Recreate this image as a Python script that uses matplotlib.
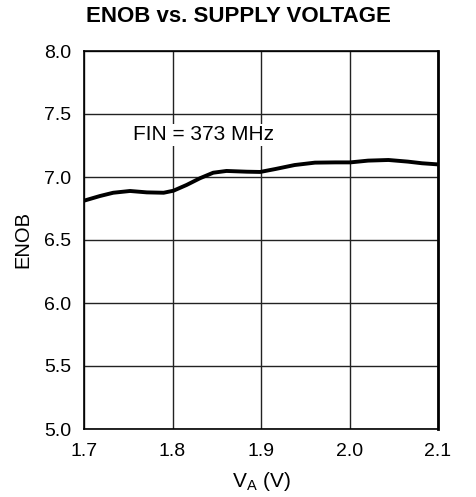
import matplotlib
matplotlib.use('Agg')
import matplotlib.pyplot as plt

plt.rcParams['font.family'] = ['Liberation Sans', 'DejaVu Sans']

# curve
va = [1.700, 1.718, 1.733, 1.752, 1.771, 1.790, 1.801, 1.816, 1.831, 1.846,
      1.861, 1.884, 1.899, 1.916, 1.938, 1.961, 1.984, 2.001, 2.021, 2.044,
      2.066, 2.082, 2.100]
enob = [6.812, 6.849, 6.875, 6.889, 6.878, 6.875, 6.891, 6.937, 6.990, 7.034,
        7.048, 7.042, 7.040, 7.063, 7.095, 7.114, 7.116, 7.116, 7.130, 7.135,
        7.122, 7.109, 7.100]

x_ticks = [1.7, 1.8, 1.9, 2.0, 2.1]
x_labels = ['1.7', '1.8', '1.9', '2.0', '2.1']
y_ticks = [5.0, 5.5, 6.0, 6.5, 7.0, 7.5, 8.0]
y_labels = ['5.0', '5.5', '6.0', '6.5', '7.0', '7.5', '8.0']

fig = plt.figure(figsize=(4.77, 4.97), dpi=100, facecolor='w')
ax = fig.add_axes([84/477, 1-429/497, 354/477, 378/497])

ax.plot(va, enob, color='k', linewidth=2.8, solid_capstyle='butt', zorder=3)

ax.set_xlim(1.7, 2.1)
ax.set_ylim(5.0, 8.0)
ax.set_xticks(x_ticks)
ax.set_xticklabels(x_labels)
ax.set_yticks(y_ticks)
ax.set_yticklabels(y_labels)
ax.tick_params(length=0, labelsize=14)
ax.tick_params(axis='x', pad=10)
ax.tick_params(axis='y', pad=9)
ax.grid(True, color='#222222', linewidth=1.0)
ax.set_axisbelow(True)
for s in ax.spines.values():
    s.set_linewidth(1.2)
ax.spines['right'].set_linewidth(2)

ax.text(1.755, 7.335, 'FIN = 373 MHz', fontsize=15, va='center', ha='left',
        bbox=dict(facecolor='white', edgecolor='none', pad=1), zorder=4)

ax.set_ylabel('ENOB', fontsize=14.5)
ax.yaxis.set_label_coords(-0.145, 0.5)
ax.set_xlabel(r'V$_\mathregular{A}$ (V)', fontsize=15)
ax.xaxis.set_label_coords(0.5, -0.108)
fig.text(238/477, 1-17/497, 'ENOB vs. SUPPLY VOLTAGE', fontsize=16,
         fontweight='bold', ha='center', va='center')

fig.savefig('out.png', dpi=100)
